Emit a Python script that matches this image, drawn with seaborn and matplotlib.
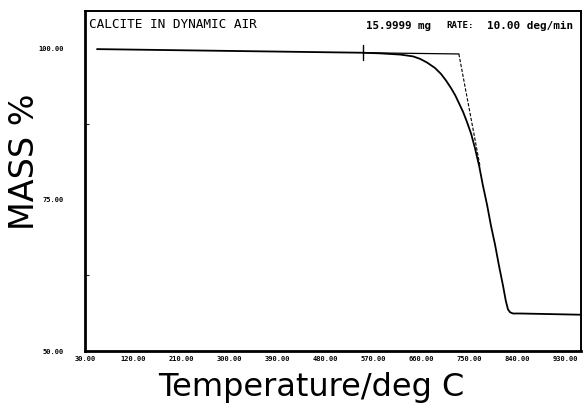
import matplotlib
matplotlib.use("Agg")
import matplotlib.pyplot as plt
import seaborn as sns
import pandas as pd

# TGA trace of calcite heated in dynamic air
temperature = [52.5, 302, 551, 583, 621, 645, 658, 671, 686, 697.5, 707, 716, 724, 731,
               739, 746, 754, 761, 769, 776, 784, 791, 799, 806, 814, 819, 823, 827,
               832.5, 846, 958]
mass_pct = [99.9, 99.6, 99.3, 99.2, 99.0, 98.7, 98.3, 97.7, 96.8, 95.8, 94.7, 93.5, 92.3,
            91.0, 89.5, 87.9, 85.9, 83.6, 80.6, 77.4, 74.1, 70.8, 67.5, 64.2, 60.7, 58.3,
            56.9, 56.4, 56.2, 56.2, 56.0]

# onset construction: baseline tangent and steepest-slope tangent
baseline_T = [551, 731]
baseline_m = [99.3, 99.1]
slope_T = [731, 771]
slope_m = [99.1, 80.4]
marker_T = [551, 551]
marker_m = [100.6, 98.1]

x_ticks = [30, 120, 210, 300, 390, 480, 570, 660, 750, 840, 930]
y_ticks = [50, 75, 100]

sns.set_theme(style="white")
plt.rcParams["font.family"] = ["DejaVu Sans"]

fig = plt.figure(figsize=(5.83, 4.08), dpi=100)
ax = fig.add_axes([85 / 583, 1 - 351 / 408, 496 / 583, 340 / 408])

df = pd.DataFrame({"T": temperature, "m": mass_pct})
sns.lineplot(data=df, x="T", y="m", ax=ax, color="black", linewidth=1.3,
             sort=False, estimator=None)
sns.lineplot(x=baseline_T, y=baseline_m, ax=ax, color="black", linewidth=0.9,
             sort=False, estimator=None)
sns.lineplot(x=slope_T, y=slope_m, ax=ax, color="black", linewidth=0.8,
             linestyle=(0, (3, 1.5)), sort=False, estimator=None)
sns.lineplot(x=marker_T, y=marker_m, ax=ax, color="black", linewidth=1.0,
             sort=False, estimator=None)

ax.set_xlim(30, 960)
ax.set_ylim(50, 106.2)

ax.set_xticks(x_ticks)
ax.set_xticklabels([f"{v:.2f}" for v in x_ticks], fontsize=5.0, fontweight="bold",
                   family="DejaVu Sans Mono")
ax.set_yticks(y_ticks)
ax.set_yticklabels([f"{v:.2f}" for v in y_ticks], fontsize=5.0, fontweight="bold",
                   family="DejaVu Sans Mono")
ax.set_yticks([62.5, 87.5], minor=True)
ax.tick_params(axis="x", direction="inout", length=5, width=0.8, pad=1, colors="black")
ax.tick_params(axis="y", direction="out", length=4, width=0.8, pad=11, colors="black")
ax.tick_params(axis="y", which="minor", direction="in", length=3, width=0.8, left=True)

for name, sp in ax.spines.items():
    sp.set_visible(True)
    sp.set_color("black")
    sp.set_linewidth(2.0 if name in ("left", "bottom") else 1.4)

ax.set_xlabel("Temperature/deg C", fontsize=23, family="DejaVu Sans", color="black")
ax.xaxis.set_label_coords(0.456, -0.062)
ax.set_ylabel("MASS %", fontsize=24, family="DejaVu Sans", color="black")
ax.yaxis.set_label_coords(-0.088, 0.556)

ax.text(0.008, 0.978, "CALCITE IN DYNAMIC AIR", transform=ax.transAxes, ha="left", va="top",
        fontsize=9.2, family="DejaVu Sans Mono", color="black")
ax.text((366 - 85) / 496, 0.970, "15.9999 mg", transform=ax.transAxes, ha="left", va="top",
        fontsize=7.8, fontweight="bold", family="DejaVu Sans Mono", color="black")
ax.text((446 - 85) / 496, 0.970, "RATE:", transform=ax.transAxes, ha="left", va="top",
        fontsize=6.6, fontweight="bold", family="DejaVu Sans Mono", color="black")
ax.text((487 - 85) / 496, 0.970, "10.00 deg/min", transform=ax.transAxes, ha="left", va="top",
        fontsize=7.9, fontweight="bold", family="DejaVu Sans Mono", color="black")

fig.savefig("out.png", dpi=100, facecolor="white")
